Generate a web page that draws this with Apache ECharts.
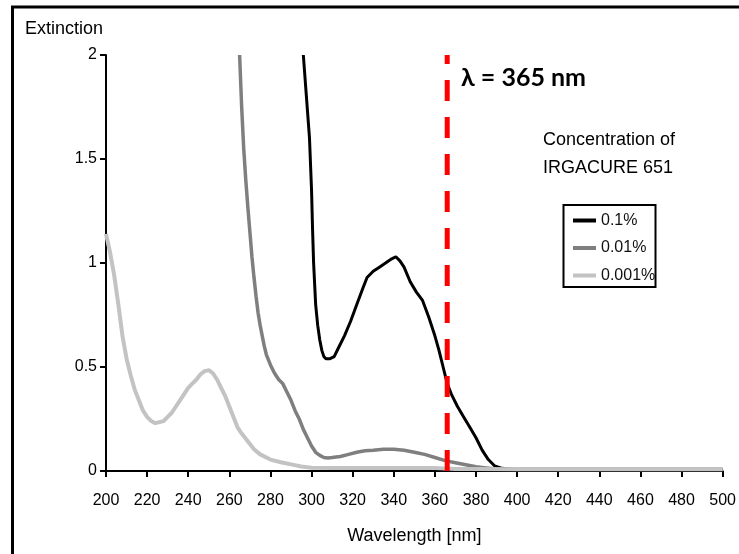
<!DOCTYPE html>
<html>
<head>
<meta charset="utf-8">
<script src="https://cdn.jsdelivr.net/npm/echarts@6/dist/echarts.min.js"></script>
<style>
html,body{margin:0;padding:0;background:#fff;}
#chart{width:739px;height:554px;}
</style>
</head>
<body>
<div id="chart"></div>
<script>
// ---- data ----
const seriesNames = ['0.1%', '0.01%', '0.001%'];

const wl_01 = [296,297.5,299,300,300.5,301,302,303,304,305,306,307,309,311,313,316,319,322,325,327,330,333,336,339,341,343,345,348,351,354,357,360,362,364,366,368,371,374,377,380,383,386,389,392,395,400,500];
const ext_01 = [2.0,1.8,1.6,1.35,1.16,1.0,0.80,0.70,0.63,0.58,0.55,0.54,0.54,0.55,0.59,0.65,0.72,0.80,0.88,0.93,0.96,0.98,1.0,1.02,1.03,1.01,0.98,0.91,0.86,0.82,0.74,0.65,0.58,0.50,0.42,0.37,0.31,0.26,0.21,0.16,0.10,0.055,0.025,0.015,0.01,0.006,0.006];

const wl_001 = [265,266,267,268,269,270,271,272,273,274,275,276,277,278,280,282,284,286,288,290,292,294,296,298,300,302,304,306,308,310,314,318,322,326,330,335,340,345,350,355,360,365,370,375,380,385,390,400,500];
const ext_001 = [2.0,1.75,1.55,1.40,1.27,1.15,1.03,0.93,0.84,0.76,0.70,0.65,0.60,0.56,0.51,0.47,0.44,0.42,0.38,0.34,0.29,0.25,0.20,0.16,0.12,0.09,0.075,0.065,0.063,0.065,0.07,0.08,0.09,0.097,0.10,0.105,0.105,0.10,0.09,0.08,0.065,0.05,0.04,0.03,0.02,0.015,0.01,0.008,0.008];

const wl_0001 = [200,202,204,206,208,210,212,214,216,218,220,222,224,226,228,230,232,234,236,238,240,242,244,246,248,250,252,254,256,258,260,262,264,266,268,270,272,275,280,285,290,295,300,310,320,330,340,350,360,370,380,400,500];
const ext_0001 = [1.14,1.05,0.94,0.80,0.65,0.54,0.46,0.39,0.34,0.29,0.26,0.24,0.23,0.235,0.24,0.26,0.28,0.31,0.34,0.37,0.40,0.42,0.44,0.465,0.48,0.485,0.47,0.44,0.40,0.36,0.31,0.26,0.21,0.18,0.155,0.13,0.105,0.08,0.055,0.042,0.032,0.022,0.016,0.015,0.015,0.015,0.015,0.015,0.014,0.01,0.01,0.008,0.008];

const markerWavelength = 366;
const markerExt = [0, 2];

const xTicks = {min: 200, max: 500, interval: 20};
const yTicks = {min: 0, max: 2, interval: 0.5};

// ---- chart ----
const pair = (xs, ys) => xs.map((x, i) => [x, ys[i]]);
const chart = echarts.init(document.getElementById('chart'), null, {renderer: 'canvas'});
const txtFont = 'Liberation Sans, Arial, sans-serif';

chart.setOption({
  animation: false,
  backgroundColor: '#fff',
  grid: {left: 106, right: 13, top: 55, bottom: 83, containLabel: false},
  xAxis: {
    type: 'value', min: xTicks.min, max: xTicks.max, interval: xTicks.interval,
    name: 'Wavelength [nm]', nameLocation: 'middle', nameGap: 56,
    nameTextStyle: {fontFamily: txtFont, fontSize: 18, color: '#000'},
    axisLine: {show: true, onZero: false, lineStyle: {color: '#000', width: 2}},
    axisTick: {show: true, inside: false, length: 6, lineStyle: {color: '#000', width: 2}},
    axisLabel: {fontFamily: txtFont, fontSize: 16, color: '#000', margin: 22},
    splitLine: {show: false}
  },
  yAxis: {
    type: 'value', min: yTicks.min, max: yTicks.max, interval: yTicks.interval,
    name: 'Extinction', nameLocation: 'end', nameGap: 17,
    nameTextStyle: {fontFamily: txtFont, fontSize: 18, color: '#000', align: 'right', padding: [0, 3, 0, 0]},
    axisLine: {show: true, lineStyle: {color: '#000', width: 2}},
    axisTick: {show: true, inside: false, length: 6, lineStyle: {color: '#000', width: 2}},
    axisLabel: {fontFamily: txtFont, fontSize: 16, color: '#000', margin: 9},
    splitLine: {show: false}
  },
  legend: {
    data: seriesNames,
    orient: 'vertical',
    left: 573, top: 207,
    icon: 'rect', itemWidth: 23, itemHeight: 4, itemGap: 0.5,
    padding: 0,
    textStyle: {fontFamily: txtFont, fontSize: 16, color: '#111', lineHeight: 18, padding: [9, 0, 0, 0]}
  },
  series: [
    {name: seriesNames[0], type: 'line', data: pair(wl_01, ext_01), showSymbol: false, symbol: 'none',
     lineStyle: {color: '#000', width: 3}, itemStyle: {color: '#000'}, clip: true},
    {name: seriesNames[1], type: 'line', data: pair(wl_001, ext_001), showSymbol: false, symbol: 'none',
     lineStyle: {color: '#7f7f7f', width: 3.5}, itemStyle: {color: '#7f7f7f'}, clip: true},
    {name: seriesNames[2], type: 'line', data: pair(wl_0001, ext_0001), showSymbol: false, symbol: 'none',
     lineStyle: {color: '#c3c3c3', width: 4}, itemStyle: {color: '#c3c3c3'}, clip: true},
    {name: 'λ', type: 'line', data: markerExt.map(v => [markerWavelength, v]), showSymbol: false, symbol: 'none',
     lineStyle: {color: '#ff0000', width: 5, type: [21, 16]}, z: 5}
  ],
  graphic: [
    {type: 'rect', shape: {x: 12.5, y: 7, width: 900, height: 700}, style: {fill: 'none', stroke: '#000', lineWidth: 3}, silent: true},
    {type: 'rect', shape: {x: 563.5, y: 205, width: 92, height: 82}, style: {fill: 'none', stroke: '#000', lineWidth: 2}, silent: true},
    {type: 'text', left: 461, top: 65, style: {text: 'λ = 365 nm', font: 'bold 25px Lato, "Open Sans", sans-serif', fill: '#000'}},
    {type: 'text', x: 609, y: 140, style: {text: 'Concentration of', font: '18px "Liberation Sans", Arial, sans-serif', fill: '#000', textAlign: 'center', textVerticalAlign: 'middle'}},
    {type: 'text', x: 608, y: 168, style: {text: 'IRGACURE 651', font: '18px "Liberation Sans", Arial, sans-serif', fill: '#000', textAlign: 'center', textVerticalAlign: 'middle'}}
  ]
});
</script>
</body>
</html>
